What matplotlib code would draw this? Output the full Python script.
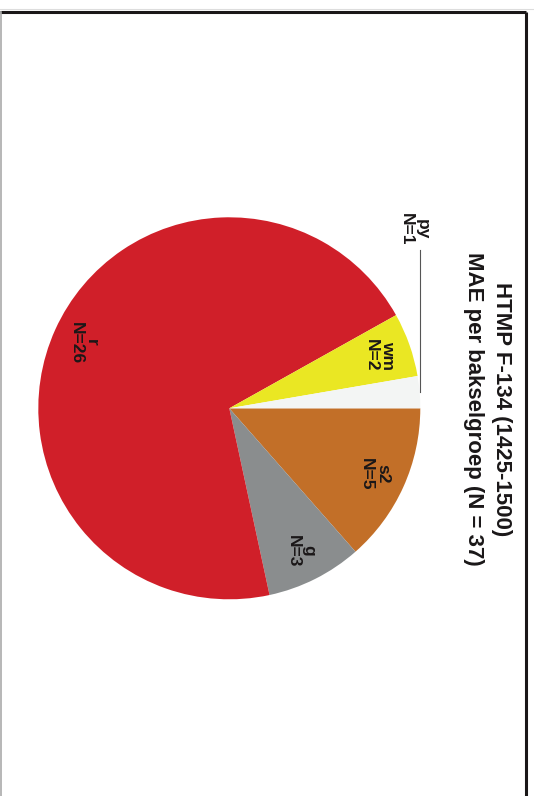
import matplotlib
matplotlib.use("Agg")
import matplotlib.pyplot as plt
import numpy as np

plt.rcParams['font.family'] = ['Liberation Sans', 'DejaVu Sans']

# data (bakselgroep -> aantal), volgorde met de klok mee vanaf rechts
groepen = ['s2', 'g', 'r', 'wm', 'py']
aantallen = [5, 3, 26, 2, 1]
kleuren = ['#C26F28', '#8A8D8E', '#D01F29', '#EAE723', '#F3F5F4']
titel1 = 'HTMP F-134 (1425-1500)'
titel2 = 'MAE per bakselgroep (N = 37)'

W, H = 534, 796
fig = plt.figure(figsize=(W / 100, H / 100), dpi=100)
ax = fig.add_axes([0, 0, 1, 1])

tekst = '#1A1718'
cx, cy, rad = 229.3, H - 408.3, 191

wedges, _ = ax.pie(aantallen, colors=kleuren, startangle=0, counterclock=False,
                   center=(cx, cy), radius=rad, frame=True,
                   wedgeprops=dict(linewidth=0))
ax.set_xlim(0, W)
ax.set_ylim(0, H)
ax.set_aspect('equal')
ax.axis('off')

# labels in de segmenten (pagina is 90 graden gedraaid)
for w, g, n in zip(wedges, groepen, aantallen):
    mid = np.deg2rad((w.theta1 + w.theta2) / 2)
    if g == 'py':
        # klein segment: label buiten met lijntje
        ex = cx + rad * np.cos(mid)
        ey = cy + rad * np.sin(mid)
        ax.plot([ex, ex], [ey, ey + 142], color='#555555', lw=0.8)
        ax.text(ex - 5, ey + 163, f'{g}\nN={n}', rotation=-90, ha='center',
                va='center', multialignment='center', fontsize=12.5,
                fontweight='bold', color=tekst, linespacing=1.05)
        continue
    d = 0.835 * rad
    ax.text(cx + d * np.cos(mid), cy + d * np.sin(mid), f'{g}\nN={n}',
            rotation=-90, ha='center', va='center', multialignment='center',
            fontsize=12.5, fontweight='bold', color=tekst, linespacing=1.05)

# titel
ax.text(496, H - 409, titel1, rotation=-90, rotation_mode='anchor',
        ha='center', va='baseline', fontsize=16, fontweight='bold', color=tekst)
ax.text(468, H - 409, titel2, rotation=-90, rotation_mode='anchor',
        ha='center', va='baseline', fontsize=16, fontweight='bold', color=tekst)

# kader van de pagina
ax.plot([0, 526], [H - 11.5, H - 11.5], color=tekst, lw=2.2, solid_capstyle='butt')
ax.plot([525.8, 525.8], [H - 11.5, 0], color=tekst, lw=2.2, solid_capstyle='butt')
ax.plot([0.6, 0.6], [H - 12, 0], color='#AAAAAA', lw=1.2)
ax.plot([0, 534], [H - 9, H - 9], color='#DDDDDD', lw=0.8)

fig.savefig('out.png', dpi=100)
